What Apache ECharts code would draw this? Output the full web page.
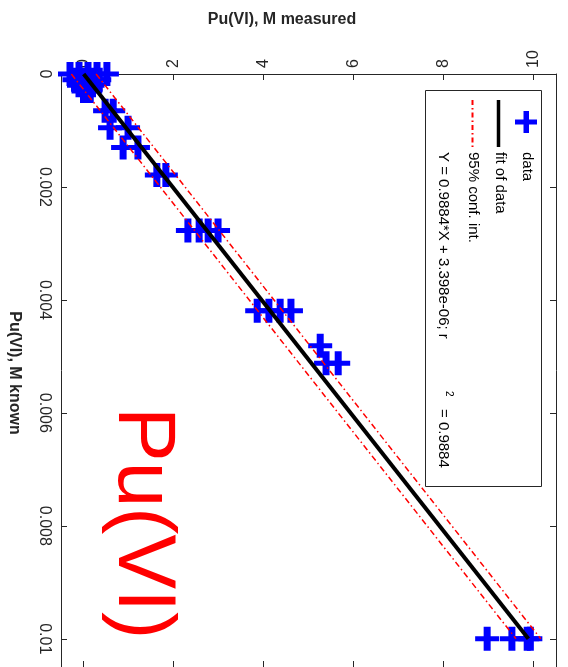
<!DOCTYPE html>
<html>
<head>
<meta charset="utf-8">
<script src="https://cdn.jsdelivr.net/npm/echarts@6/dist/echarts.min.js"></script>
<style>html,body{margin:0;padding:0;background:#fff;}#c{width:568px;height:667px;}</style>
</head>
<body>
<div id="c"></div>
<script>
// ---- data (Pu(VI) known in M, measured in mM i.e. x10^-3 M) ----
const knownM = [
  0, 0, 0, 0, 0,
  0.0001, 0.0001, 0.0001, 0.0001,
  0.0002, 0.0002, 0.0002,
  0.0003, 0.0003,
  0.00065, 0.00065,
  0.00095, 0.00095,
  0.0013, 0.0013,
  0.00179, 0.00179,
  0.00277, 0.00277, 0.00277, 0.00277,
  0.00419, 0.00419, 0.00419, 0.00419,
  0.00481,
  0.00512, 0.00512,
  0.01, 0.01, 0.01, 0.01
];
const measuredmM = [
  -0.30, -0.10, 0.10, 0.30, 0.52,
  -0.20, 0.00, 0.20, 0.35,
  -0.10, 0.05, 0.20,
  0.00, 0.15,
  0.48, 0.66,
  0.59, 0.99,
  0.88, 1.21,
  1.63, 1.83,
  2.32, 2.57, 2.77, 2.99,
  3.86, 4.12, 4.37, 4.61,
  5.26,
  5.39, 5.66,
  8.97, 9.52, 9.86, 9.93
];
const fitKnown = [0, 0.01];
const fitMeasured = [0.0034, 9.887];
const confLowMeasured = [-0.27, 9.61];
const confHighMeasured = [0.28, 10.16];
const measuredTicks = [0, 2, 4, 6, 8, 10];
const knownTickValues = [0, 0.002, 0.004, 0.006, 0.008, 0.01];
const knownTickLabels = ['0', '0.002', '0.004', '0.006', '0.008', '0.01'];
const legendLabels = ['data', 'fit of data', '95% conf. int.'];
const eqText = 'Y = 0.9884*X + 3.398e-06; r';
const eqSup = '2';
const eqTail = '= 0.9884';
const titleMeasured = 'Pu(VI), M measured';
const titleKnown = 'Pu(VI), M known';
const bigLabel = 'Pu(VI)';

const FONT = '"Liberation Sans", Arial, Helvetica, sans-serif';
const AX = '#262626';
const PLUS = 'path://M8.5,0L15.5,0L15.5,9.5L24,9.5L24,14.5L15.5,14.5L15.5,24L8.5,24L8.5,14.5L0,14.5L0,9.5L8.5,9.5Z';
const R = -Math.PI / 2;

const scatterData = knownM.map((k, i) => [measuredmM[i], k]);
const pairs = (ms) => fitKnown.map((k, i) => [ms[i], k]);

const chart = echarts.init(document.getElementById('c'), null, {renderer: 'canvas'});

function axisCommon(extra) {
  return Object.assign({
    type: 'value',
    splitLine: {show: false},
    axisLine: {show: true, onZero: false, lineStyle: {color: AX, width: 1}},
    axisTick: {show: true, inside: true, length: 6, lineStyle: {color: AX, width: 1}}
  }, extra);
}

const option = {
  animation: false,
  backgroundColor: '#fff',
  grid: {left: 61, top: 74, width: 495, height: 598.5, containLabel: false},
  xAxis: [
    axisCommon({
      position: 'top', min: -0.5, max: 10.5,
      axisLabel: {
        rotate: -90, margin: 6, color: AX, fontSize: 16, fontFamily: FONT,
        showMinLabel: false, showMaxLabel: false,
        formatter: v => (measuredTicks.indexOf(Math.round(v * 1000) / 1000) >= 0 ? String(Math.round(v)) : '')
      }
    }),
    axisCommon({
      position: 'bottom', min: -0.5, max: 10.5,
      axisLabel: {show: false}
    })
  ],
  yAxis: [
    axisCommon({
      position: 'left', inverse: true, min: 0, max: 0.0105,
      axisLabel: {
        rotate: -90, margin: 9, color: AX, fontSize: 16, fontFamily: FONT,
        showMinLabel: true, showMaxLabel: false,
        formatter: v => {
          const i = knownTickValues.findIndex(t => Math.abs(t - v) < 1e-9);
          return i >= 0 ? knownTickLabels[i] : '';
        }
      }
    }),
    axisCommon({
      position: 'right', inverse: true, min: 0, max: 0.0105,
      axisLabel: {show: false}
    })
  ],
  series: [
    {
      name: legendLabels[0], type: 'scatter', xAxisIndex: 0, yAxisIndex: 0,
      data: scatterData, symbol: PLUS, symbolSize: [24, 24],
      itemStyle: {color: '#0000ff', opacity: 1}, z: 2, silent: true
    },
    {
      name: legendLabels[1], type: 'line', xAxisIndex: 0, yAxisIndex: 0,
      data: pairs(fitMeasured), showSymbol: false, symbol: 'none',
      lineStyle: {color: '#000', width: 4}, z: 4, silent: true
    },
    {
      name: legendLabels[2], type: 'line', xAxisIndex: 0, yAxisIndex: 0,
      data: pairs(confLowMeasured), showSymbol: false, symbol: 'none',
      lineStyle: {color: '#ff0000', width: 1.5, type: [6, 3, 1.5, 3]}, z: 5, silent: true
    },
    {
      name: legendLabels[2] + ' ', type: 'line', xAxisIndex: 0, yAxisIndex: 0,
      data: pairs(confHighMeasured), showSymbol: false, symbol: 'none',
      lineStyle: {color: '#ff0000', width: 1.5, type: [6, 3, 1.5, 3]}, z: 5, silent: true
    }
  ],
  graphic: [
    {type: 'text', x: 282, y: 20, z: 10,
      style: {text: titleMeasured, font: 'bold 16px ' + FONT, fill: AX, textAlign: 'center', textVerticalAlign: 'middle'}},
    {type: 'text', x: 14, y: 373, rotation: R, z: 10,
      style: {text: titleKnown, font: 'bold 16px ' + FONT, fill: AX, textAlign: 'center', textVerticalAlign: 'middle'}},
    {type: 'text', x: 142, y: 407, rotation: R, z: 10,
      style: {text: bigLabel, font: '82px ' + FONT, fill: '#ff0000', textAlign: 'left', textVerticalAlign: 'middle'}},
    // legend box
    {type: 'rect', z: 20, shape: {x: 425.5, y: 90.5, width: 116, height: 396},
      style: {fill: '#fff', stroke: AX, lineWidth: 1}},
    {type: 'rect', z: 21, shape: {x: 515, y: 119.5, width: 22, height: 5}, style: {fill: '#0000ff'}},
    {type: 'rect', z: 21, shape: {x: 523.5, y: 111, width: 5.5, height: 22}, style: {fill: '#0000ff'}},
    {type: 'line', z: 21, shape: {x1: 498.5, y1: 100, x2: 498.5, y2: 147},
      style: {stroke: '#000', lineWidth: 3.5}},
    {type: 'line', z: 21, shape: {x1: 472.5, y1: 100, x2: 472.5, y2: 147},
      style: {stroke: '#ff0000', lineWidth: 2, lineDash: [5, 3, 1.5, 3]}},
    {type: 'text', z: 21, x: 527, y: 152, rotation: R,
      style: {text: legendLabels[0], font: '15px ' + FONT, fill: '#000', textAlign: 'left', textVerticalAlign: 'middle'}},
    {type: 'text', z: 21, x: 500, y: 152, rotation: R,
      style: {text: legendLabels[1], font: '15px ' + FONT, fill: '#000', textAlign: 'left', textVerticalAlign: 'middle'}},
    {type: 'text', z: 21, x: 473, y: 152, rotation: R,
      style: {text: legendLabels[2], font: '15px ' + FONT, fill: '#000', textAlign: 'left', textVerticalAlign: 'middle'}},
    {type: 'text', z: 21, x: 443, y: 152, rotation: R,
      style: {text: eqText, font: '15px ' + FONT, fill: '#000', textAlign: 'left', textVerticalAlign: 'middle'}},
    {type: 'text', z: 21, x: 449, y: 391, rotation: R,
      style: {text: eqSup, font: '10px ' + FONT, fill: '#000', textAlign: 'left', textVerticalAlign: 'middle'}},
    {type: 'text', z: 21, x: 443, y: 409, rotation: R,
      style: {text: eqTail, font: '15px ' + FONT, fill: '#000', textAlign: 'left', textVerticalAlign: 'middle'}}
  ]
};
chart.setOption(option);
</script>
</body>
</html>
